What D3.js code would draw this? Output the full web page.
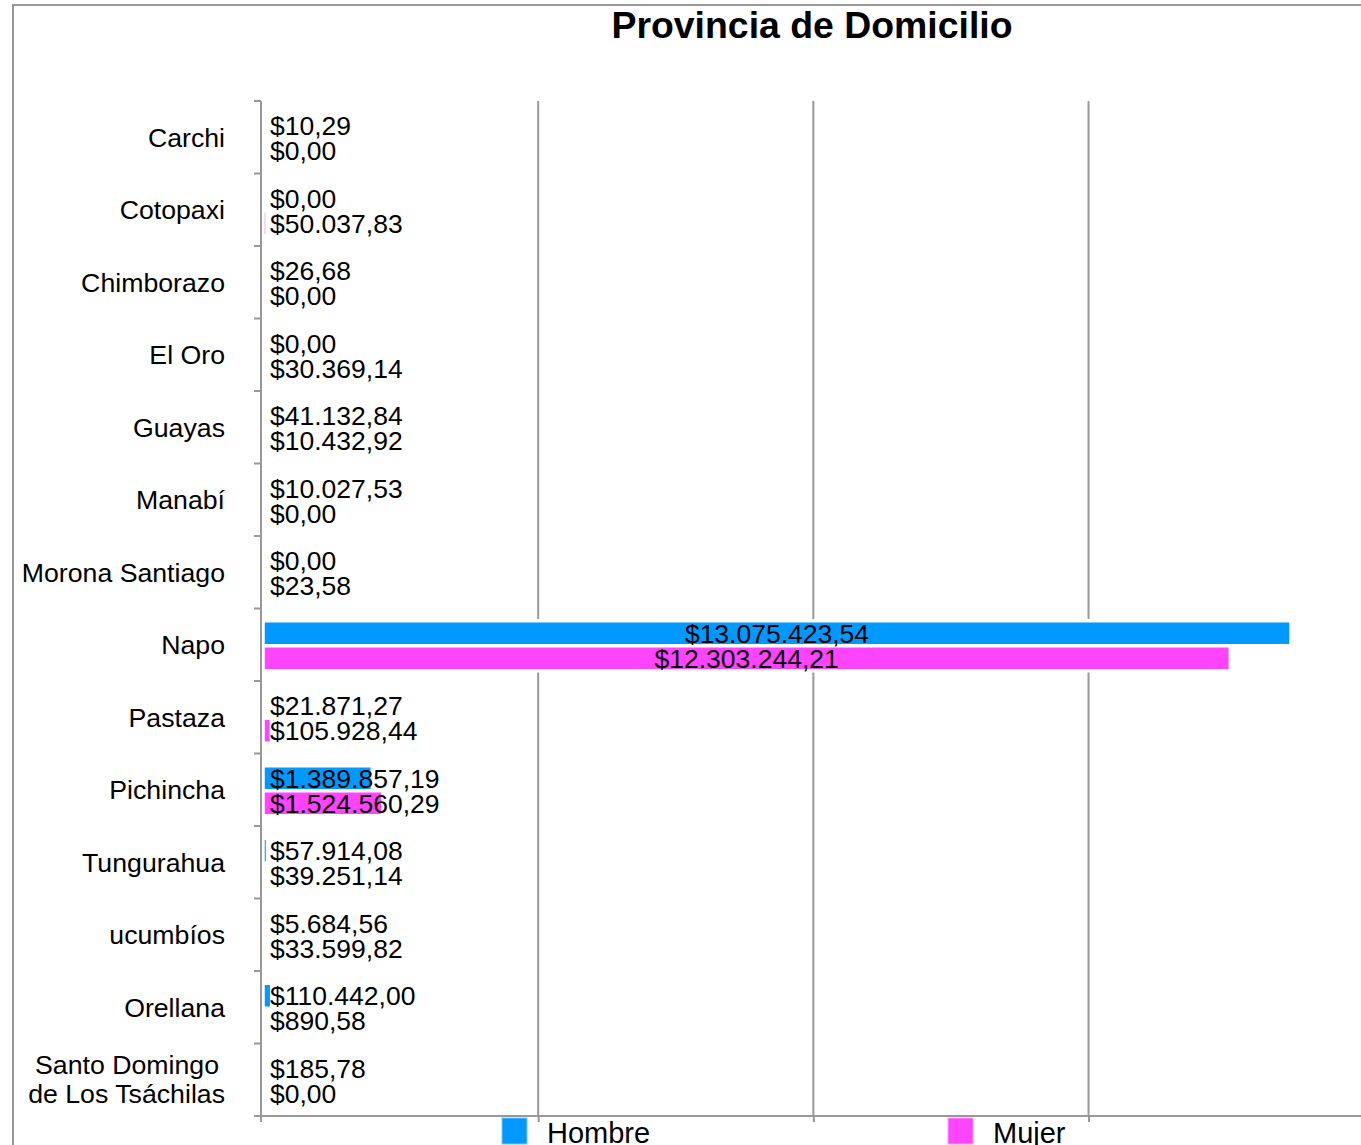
<!DOCTYPE html>
<html>
<head>
<meta charset="utf-8">
<script src="https://cdn.jsdelivr.net/npm/d3@7"></script>
<style>
  body { margin: 0; background: #fff; }
  svg { display: block; font-family: "Liberation Sans", Arial, sans-serif; }
</style>
</head>
<body>
<div id="root"></div>
<script>
// data
const provinces = ['Carchi', 'Cotopaxi', 'Chimborazo', 'El Oro', 'Guayas', 'Manabí', 'Morona Santiago',
  'Napo', 'Pastaza', 'Pichincha', 'Tungurahua', 'ucumbíos', 'Orellana', 'Santo Domingo de Los Tsáchilas'];
const series = ['Hombre', 'Mujer'];
const hombre = [10.29, 0, 26.68, 0, 41132.84, 10027.53, 0, 13075423.54, 21871.27, 1389857.19, 57914.08, 5684.56, 110442.00, 185.78];
const mujer = [0, 50037.83, 0, 30369.14, 10432.92, 0, 23.58, 12303244.21, 105928.44, 1524560.29, 39251.14, 33599.82, 890.58, 0];
const gridValues = [0, 3500000, 7000000, 10500000];
const colors = ['#0099ff', '#ff44ff'];
const legendStroke = ['#7cc8ff', '#ff9cff'];

const w = 1361, h = 1145;
const plotTop = 101, plotBottom = 1116, plotLeft = 263;

const svg = d3.select('#root').append('svg')
  .attr('width', w)
  .attr('height', h);

// frame (runs off the right / bottom edge like the original)
svg.append('rect')
  .attr('x', 13).attr('y', 5)
  .attr('width', 1600).attr('height', 1300)
  .attr('fill', 'none')
  .attr('stroke', '#999').attr('stroke-width', 2);

svg.append('text')
  .attr('x', 812).attr('y', 38)
  .attr('text-anchor', 'middle')
  .attr('font-size', 37.4).attr('font-weight', 'bold')
  .text('Provincia de Domicilio');

const x = d3.scaleLinear().domain([0, 14000000]).range([plotLeft, 1363.7]);
const y = d3.scaleBand().domain(provinces).range([plotTop, plotBottom]);
const ySub = d3.scaleBand().domain(series).range([0, y.bandwidth()]).paddingOuter(0.45);

const locale = d3.formatLocale({decimal: ',', thousands: '.', grouping: [3], currency: ['$', '']});
const fmt = locale.format('$,.2f');

// grid
svg.append('g').selectAll('line')
  .data(gridValues.slice(1))
  .join('line')
  .attr('x1', d => x(d)).attr('x2', d => x(d))
  .attr('y1', plotTop).attr('y2', plotBottom)
  .attr('stroke', '#999').attr('stroke-width', 2);

// bars
const rows = provinces.map((p, i) => ({p, vals: [hombre[i], mujer[i]]}));
const groups = svg.append('g').selectAll('g')
  .data(rows)
  .join('g')
  .attr('transform', d => `translate(0,${y(d.p) + 1})`);

groups.selectAll('rect')
  .data(d => d.vals.map((v, j) => ({v, s: series[j], j})))
  .join('rect')
  .attr('x', x(0))
  .attr('y', d => ySub(d.s))
  .attr('width', d => Math.max(0, x(d.v) - x(0)))
  .attr('height', ySub.bandwidth())
  .attr('fill', d => colors[d.j])
  .attr('stroke', '#fff').attr('stroke-width', 3.5);

groups.selectAll('text')
  .data(d => d.vals.map((v, j) => ({v, s: series[j], j})))
  .join('text')
  .attr('y', d => ySub(d.s) + ySub.bandwidth() / 2)
  .attr('dy', '0.36em')
  .attr('font-size', 26.5)
  .text(d => fmt(d.v))
  .each(function(d) {
    const tw = this.getComputedTextLength();
    const bw = x(d.v) - x(0);
    if (tw + 10 < bw) {
      d3.select(this).attr('x', x(0) + bw / 2).attr('text-anchor', 'middle');
    } else {
      d3.select(this).attr('x', x(0) + 7).attr('text-anchor', 'start');
    }
  });

// axes
const xAxis = d3.axisBottom(x).tickValues(gridValues.slice(1)).tickSize(6).tickFormat('');
const gx = svg.append('g')
  .attr('transform', `translate(0,${plotBottom})`)
  .call(xAxis);
gx.select('.domain').remove();
gx.selectAll('.tick line').attr('stroke', '#999').attr('stroke-width', 2);

svg.append('line')
  .attr('x1', 254).attr('x2', w)
  .attr('y1', plotBottom).attr('y2', plotBottom)
  .attr('stroke', '#999').attr('stroke-width', 2);

svg.append('line')
  .attr('x1', 261).attr('x2', 261)
  .attr('y1', plotTop).attr('y2', plotBottom + 6)
  .attr('stroke', '#999').attr('stroke-width', 2);

const bounds = provinces.map(p => y(p)).concat([plotBottom]);
svg.append('g').selectAll('line')
  .data(bounds)
  .join('line')
  .attr('x1', 254).attr('x2', 261)
  .attr('y1', d => d).attr('y2', d => d)
  .attr('stroke', '#999').attr('stroke-width', 2);

// category labels
const labels = svg.append('g').selectAll('text')
  .data(provinces)
  .join('text')
  .attr('x', 225)
  .attr('y', d => y(d) + y.bandwidth() / 2)
  .attr('text-anchor', 'end')
  .attr('font-size', 26.7);

labels.each(function(d) {
  const t = d3.select(this);
  if (d.startsWith('Santo Domingo')) {
    t.append('tspan').attr('x', 219).attr('dy', '-0.2em').text('Santo Domingo');
    t.append('tspan').attr('x', 225).attr('dy', '1.06em').text('de Los Tsáchilas');
  } else {
    t.attr('dy', '0.35em').text(d === 'Morona Santiago' ? 'Morona Santiago ' : d);
  }
});

// legend
const legendX = [502, 948];
const legend = svg.append('g').selectAll('g')
  .data(series)
  .join('g')
  .attr('transform', (d, i) => `translate(${legendX[i]},1118)`);

legend.append('rect')
  .attr('width', 25).attr('height', 26)
  .attr('fill', (d, i) => colors[i])
  .attr('stroke', (d, i) => legendStroke[i]).attr('stroke-width', 1);

legend.append('text')
  .attr('x', 45).attr('y', 25)
  .attr('font-size', 29)
  .text(d => d);
</script>
</body>
</html>
